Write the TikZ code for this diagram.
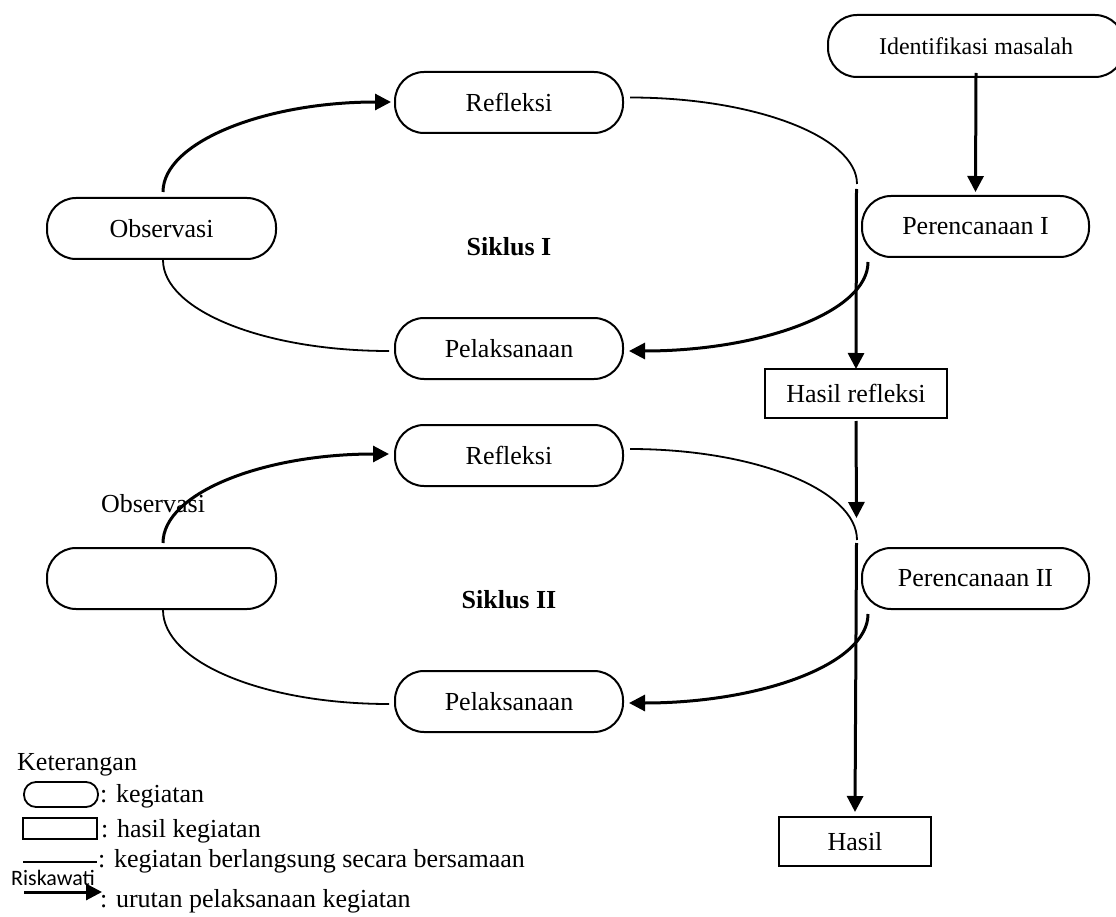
\documentclass[tikz,border=0pt]{standalone}
\usepackage{fontspec}
\setmainfont{Liberation Serif}
\newfontfamily\riskfont{Carlito}
\usetikzlibrary{arrows.meta,calc}
\tikzset{
  mainfs/.style={font=\fontsize{26}{30}\selectfont},
  act/.style={draw, line width=2pt, rounded corners=29pt, minimum width=228pt,
    minimum height=61pt, inner sep=0pt, mainfs},
  res/.style={draw, line width=2pt, minimum height=49pt, inner sep=0pt, mainfs},
  thincurve/.style={line width=1.8pt},
  arr/.style={line width=3pt, -{Triangle[length=16pt,width=16pt]}},
  lbl/.style={mainfs, inner sep=0pt, anchor=base west},
}
\begin{document}
\begin{tikzpicture}[x=1pt,y=-1pt]
\clip (0,0) rectangle (1116,917);
\fill[white] (0,0) rectangle (1116,917);
% nodes
\node[act, minimum width=296pt, minimum height=62pt, font=\fontsize{24}{28}\selectfont] (idm) at (976,46) {Identifikasi masalah};
\node[act, minimum width=227pt] (per1) at (975.5,226.5) {Perencanaan I};
\node[act] (ref1) at (509,102.5) {Refleksi};
\node[act, minimum width=229pt] (obs1) at (161.5,228.5) {Observasi};
\node[act] (pel1) at (509,348.5) {Pelaksanaan};
\node[font=\bfseries\fontsize{26}{30}\selectfont] (sik1) at (509,247) {Siklus I};
\node[res, minimum width=182pt] (hr) at (856,393.5) {Hasil refleksi};
\node[act] (ref2) at (509,455.5) {Refleksi};
\node[act, minimum width=229pt] (obs2) at (161.5,578.5) {};
\node[mainfs, inner sep=0pt] (obs2lbl) at (153,504) {Observasi};
\node[act] (pel2) at (509,701.5) {Pelaksanaan};
\node[font=\bfseries\fontsize{26}{30}\selectfont] (sik2) at (509,600) {Siklus II};
\node[act, minimum width=227pt] (per2) at (975.5,578.5) {Perencanaan II};
\node[res, minimum width=152pt] (hasil) at (855,841.5) {Hasil};
% junction coordinates on the vertical line
\coordinate (j1) at (857,184);
\coordinate (j1b) at (856.5,189);
\coordinate (j2) at (856.5,518);
\coordinate (j2c) at (857,540);
\coordinate (j2b) at (856.5,543);
% connectors, cycle I
\draw[arr] ([yshift=5pt]idm.south) -- ([yshift=3pt]per1.north);
\draw[arr] ([xshift=1.5pt,yshift=5pt]obs1.north) .. controls +(0,-50) and +(-126,0) .. ([xshift=-3pt,yshift=0.5pt]ref1.west);
\draw[thincurve] ([xshift=1.5pt]obs1.south) .. controls +(0,50) and +(-126,0) .. ([xshift=-5pt,yshift=-2.5pt]pel1.west);
\draw[thincurve] ([xshift=6pt,yshift=5pt]ref1.east) .. controls +(125,0) and +(0,-47) .. (j1);
\draw[arr] (j1b) -- ([yshift=-1pt]hr.north);
\draw[arr] ([xshift=7pt,yshift=-4pt]per1.south west) .. controls +(0,50) and +(132,0) .. ([xshift=5pt,yshift=-2.5pt]pel1.east);
% connectors, cycle II
\draw[arr] ([yshift=-2pt]hr.south) -- (j2);
\draw[arr] ([xshift=1.5pt,yshift=4pt]obs2.north) .. controls +(0,-50) and +(-126,0) .. ([xshift=-5pt,yshift=1.5pt]ref2.west);
\draw[thincurve] ([xshift=1.5pt]obs2.south) .. controls +(0,52) and +(-126,0) .. ([xshift=-5pt,yshift=-2.5pt]pel2.west);
\draw[thincurve] ([xshift=6pt,yshift=6.5pt]ref2.east) .. controls +(125,0) and +(0,-50) .. (j2c);
\draw[arr] (j2b) -- ([yshift=4pt]hasil.north);
\draw[arr] ([xshift=7pt,yshift=-4pt]per2.south west) .. controls +(0,50) and +(132,0) .. ([xshift=5pt,yshift=-1.5pt]pel2.east);
% legend
\node[lbl] (ket) at (17,770) {Keterangan};
\node[draw, line width=1.8pt, rounded corners=12pt, minimum width=74pt, minimum height=25pt, inner sep=0pt] (lgact) at (61,794.5) {};
\node[lbl] (lgacttxt) at (100,802) {: kegiatan};
\node[draw, line width=1.8pt, minimum width=74pt, minimum height=21pt, inner sep=0pt] (lgres) at (60,828.5) {};
\node[lbl] (lgrestxt) at (101,837) {: hasil kegiatan};
\coordinate (lgl1) at (23,862);
\coordinate (lgl2) at (97,862);
\draw[line width=1.8pt] (lgl1) -- (lgl2);
\node[lbl] (lglinetxt) at (98,867) {: kegiatan berlangsung secara bersamaan};
\coordinate (lga1) at (24,892);
\coordinate (lga2) at (102,892);
\draw[arr] (lga1) -- (lga2);
\node[inner sep=0pt, anchor=base west, font=\riskfont\fontsize{22}{26}\selectfont] (risk) at (11,885) {Riskawati};
\node[lbl] (lgarrtxt) at (100,907) {: urutan pelaksanaan kegiatan};
\end{tikzpicture}
\end{document}
